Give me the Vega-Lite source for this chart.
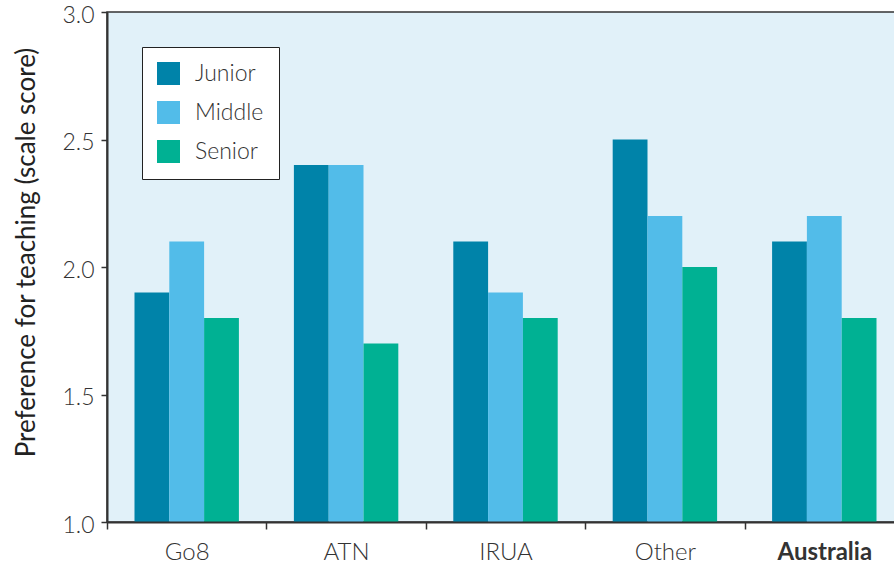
{
  "$schema": "https://vega.github.io/schema/vega-lite/v6.json",
  "autosize": "none",
  "padding": {"left": 107, "top": 12, "right": 0, "bottom": 47},
  "width": 797,
  "height": 510,
  "background": "white",
  "data": {
    "values": [
      {"group": "Go8", "level": "Junior", "score": 1.9},
      {"group": "Go8", "level": "Middle", "score": 2.1},
      {"group": "Go8", "level": "Senior", "score": 1.8},
      {"group": "ATN", "level": "Junior", "score": 2.4},
      {"group": "ATN", "level": "Middle", "score": 2.4},
      {"group": "ATN", "level": "Senior", "score": 1.7},
      {"group": "IRUA", "level": "Junior", "score": 2.1},
      {"group": "IRUA", "level": "Middle", "score": 1.9},
      {"group": "IRUA", "level": "Senior", "score": 1.8},
      {"group": "Other", "level": "Junior", "score": 2.5},
      {"group": "Other", "level": "Middle", "score": 2.2},
      {"group": "Other", "level": "Senior", "score": 2.0},
      {"group": "Australia", "level": "Junior", "score": 2.1},
      {"group": "Australia", "level": "Middle", "score": 2.2},
      {"group": "Australia", "level": "Senior", "score": 1.8}
    ]
  },
  "config": {
    "font": "Lato",
    "view": {"fill": "#e1f1f9", "stroke": "#333333", "strokeWidth": 1.5}
  },
  "mark": {"type": "bar", "clip": true},
  "encoding": {
    "x": {
      "field": "group",
      "type": "nominal",
      "sort": ["Go8", "ATN", "IRUA", "Other", "Australia"],
      "scale": {"paddingInner": 0, "paddingOuter": 0},
      "axis": {
        "title": null,
        "labelAngle": 0,
        "labelFontSize": 24,
        "labelColor": "#333333",
        "labelFontWeight": {"condition": {"test": "datum.value === 'Australia'", "value": "bold"}, "value": 300},
        "labelPadding": 11,
        "tickBand": "extent",
        "tickSize": 7,
        "tickColor": "#333333",
        "tickWidth": 1.5,
        "domainColor": "#333333",
        "domainWidth": 2,
        "zindex": 1
      }
    },
    "xOffset": {
      "field": "level",
      "type": "nominal",
      "scale": {"paddingOuter": 0.79, "paddingInner": 0}
    },
    "y": {
      "field": "score",
      "type": "quantitative",
      "scale": {"domain": [1, 3], "zero": false, "nice": false},
      "axis": {
        "title": "Preference for teaching (scale score)",
        "titleFontSize": 26,
        "titleFontWeight": "normal",
        "titleColor": "#222222",
        "titlePadding": 22,
        "titleY": 240,
        "values": [1, 1.5, 2, 2.5, 3],
        "format": ".1f",
        "labelFontSize": 23,
        "labelFontWeight": 300,
        "labelColor": "#333333",
        "labelPadding": 7,
        "labelOffset": 3,
        "tickSize": 6,
        "tickColor": "#333333",
        "tickWidth": 1.5,
        "domainColor": "#333333",
        "domainWidth": 2,
        "grid": false,
        "zindex": 1
      }
    },
    "color": {
      "field": "level",
      "type": "nominal",
      "scale": {"domain": ["Junior", "Middle", "Senior"], "range": ["#0083a9", "#52bce9", "#00b193"]},
      "legend": {
        "title": null,
        "orient": "none",
        "legendX": 35,
        "legendY": 35,
        "fillColor": "white",
        "strokeColor": "#222222",
        "padding": 15,
        "symbolType": "square",
        "symbolSize": 529,
        "symbolStrokeWidth": 0,
        "labelFontSize": 23,
        "labelFontWeight": 300,
        "labelColor": "#333333",
        "labelOffset": 15,
        "rowPadding": 15
      }
    }
  }
}
